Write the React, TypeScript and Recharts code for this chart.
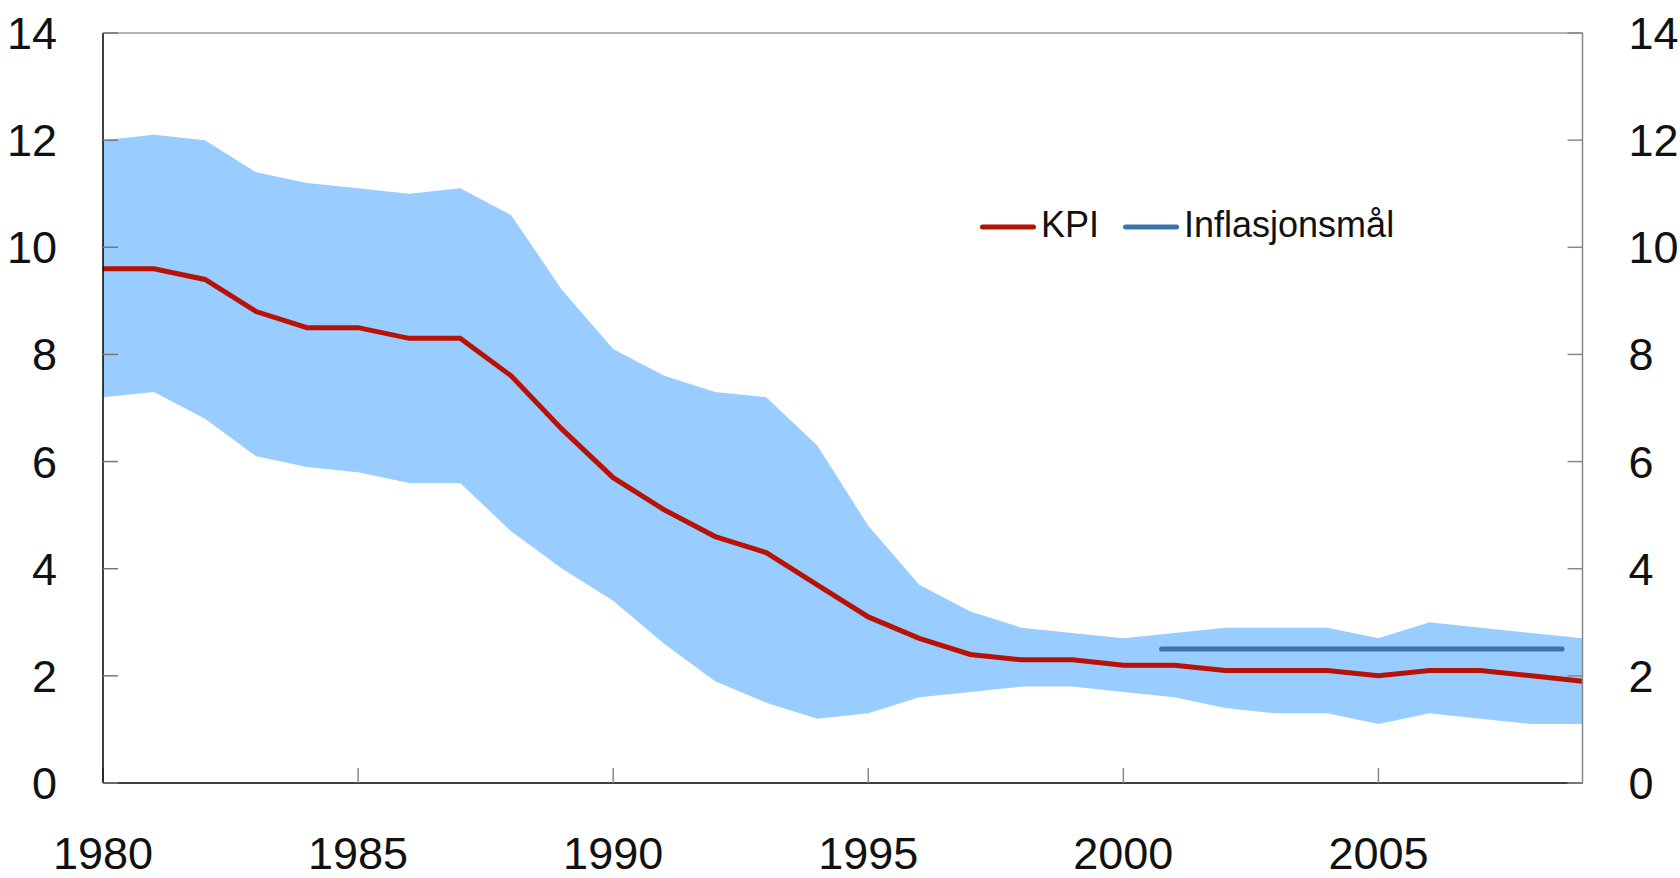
import { ComposedChart, Area, Line, XAxis, YAxis, Legend, ReferenceLine } from 'recharts';

// KPI (inflation) with spread band and the inflation target, 1980-2009

const years = [
  1980, 1981, 1982, 1983, 1984, 1985, 1986, 1987, 1988, 1989,
  1990, 1991, 1992, 1993, 1994, 1995, 1996, 1997, 1998, 1999,
  2000, 2001, 2002, 2003, 2004, 2005, 2006, 2007, 2008, 2009,
];
const kpi = [
  9.6, 9.6, 9.4, 8.8, 8.5, 8.5, 8.3, 8.3, 7.6, 6.6,
  5.7, 5.1, 4.6, 4.3, 3.7, 3.1, 2.7, 2.4, 2.3, 2.3,
  2.2, 2.2, 2.1, 2.1, 2.1, 2.0, 2.1, 2.1, 2.0, 1.9,
];
const bandLow = [
  7.2, 7.3, 6.8, 6.1, 5.9, 5.8, 5.6, 5.6, 4.7, 4.0,
  3.4, 2.6, 1.9, 1.5, 1.2, 1.3, 1.6, 1.7, 1.8, 1.8,
  1.7, 1.6, 1.4, 1.3, 1.3, 1.1, 1.3, 1.2, 1.1, 1.1,
];
const bandHigh = [
  12.0, 12.1, 12.0, 11.4, 11.2, 11.1, 11.0, 11.1, 10.6, 9.2,
  8.1, 7.6, 7.3, 7.2, 6.3, 4.8, 3.7, 3.2, 2.9, 2.8,
  2.7, 2.8, 2.9, 2.9, 2.9, 2.7, 3.0, 2.9, 2.8, 2.7,
];
const targetYears = [2000.75, 2008.6];
const targetValues = [2.5, 2.5];

const xTicks = [1980, 1985, 1990, 1995, 2000, 2005];
const yTicks = [0, 2, 4, 6, 8, 10, 12, 14];
const legendOrder = ['KPI', 'Inflasjonsmål'];

const FONT = '"Liberation Sans", Arial, sans-serif';

const data = years.map((year, i) => ({ year, kpi: kpi[i], low: bandLow[i], high: bandHigh[i] }));
const targetData = targetYears.map((year, i) => ({ year, target: targetValues[i] }));

function renderLegend(props: any) {
  const items = (props.payload || [])
    .filter((e: any) => legendOrder.includes(e.value))
    .sort((a: any, b: any) => legendOrder.indexOf(a.value) - legendOrder.indexOf(b.value));
  return (
    <div style={{ display: 'flex', alignItems: 'center', fontFamily: FONT, fontSize: 36, color: '#111', whiteSpace: 'nowrap' }}>
      {items.map((entry: any, i: number) => (
        <div key={entry.value} style={{ display: 'flex', alignItems: 'center', marginLeft: i ? 24 : 0 }}>
          <svg width={56} height={10} style={{ display: 'block', marginTop: 4 }}>
            <line x1={2.5} y1={5} x2={53.5} y2={5} stroke={entry.color} strokeWidth={5} strokeLinecap="round" />
          </svg>
          <span style={{ marginLeft: 5, lineHeight: '36px' }}>{entry.value}</span>
        </div>
      ))}
    </div>
  );
}

export default function App() {
  const tickStyle = { fill: '#111', fontSize: 45, fontFamily: FONT };
  return (
    <div style={{ position: 'absolute', left: 0, top: 0, background: '#fff' }}>
      <ComposedChart width={1680} height={878} data={data} margin={{ top: 33, right: 0, bottom: 0, left: 0 }}>
        <XAxis
          dataKey="year"
          type="number"
          domain={[1980, 2009]}
          ticks={xTicks}
          interval={0}
          tickSize={-15}
          tickMargin={69}
          height={95}
          tick={tickStyle}
          tickLine={{ stroke: '#888', strokeWidth: 1.5 }}
          axisLine={{ stroke: '#000', strokeWidth: 1.5 }}
        />
        <YAxis
          yAxisId="left"
          domain={[0, 14]}
          ticks={yTicks}
          interval={0}
          width={103}
          tickSize={-15}
          tickMargin={61}
          tick={tickStyle}
          tickLine={{ stroke: '#777', strokeWidth: 1.5 }}
          axisLine={{ stroke: '#000', strokeWidth: 1.5 }}
        />
        <YAxis
          yAxisId="right"
          orientation="right"
          domain={[0, 14]}
          ticks={yTicks}
          interval={0}
          width={97.5}
          tickSize={-15}
          tickMargin={61}
          tick={tickStyle}
          tickLine={{ stroke: '#888', strokeWidth: 1.5 }}
          axisLine={{ stroke: '#888', strokeWidth: 1.5 }}
        />
        <ReferenceLine yAxisId="left" y={14} stroke="#666" strokeWidth={1} />
        <Area
          yAxisId="left"
          dataKey={(d: any) => [d.low, d.high]}
          type="linear"
          stroke="none"
          fill="#99CCFF"
          fillOpacity={1}
          legendType="none"
          isAnimationActive={false}
          activeDot={false}
        />
        <Line
          yAxisId="left"
          dataKey="kpi"
          name="KPI"
          type="linear"
          stroke="#B81207"
          strokeWidth={5}
          dot={false}
          activeDot={false}
          isAnimationActive={false}
        />
        <Line
          yAxisId="right"
          data={targetData}
          dataKey="target"
          name="Inflasjonsmål"
          type="linear"
          stroke="#3A74AB"
          strokeWidth={5}
          strokeLinecap="round"
          dot={false}
          activeDot={false}
          isAnimationActive={false}
        />
        <Legend
          layout="horizontal"
          verticalAlign="middle"
          align="center"
          wrapperStyle={{ left: 980, top: 207, width: 'auto' }}
          content={renderLegend}
        />
      </ComposedChart>
    </div>
  );
}
